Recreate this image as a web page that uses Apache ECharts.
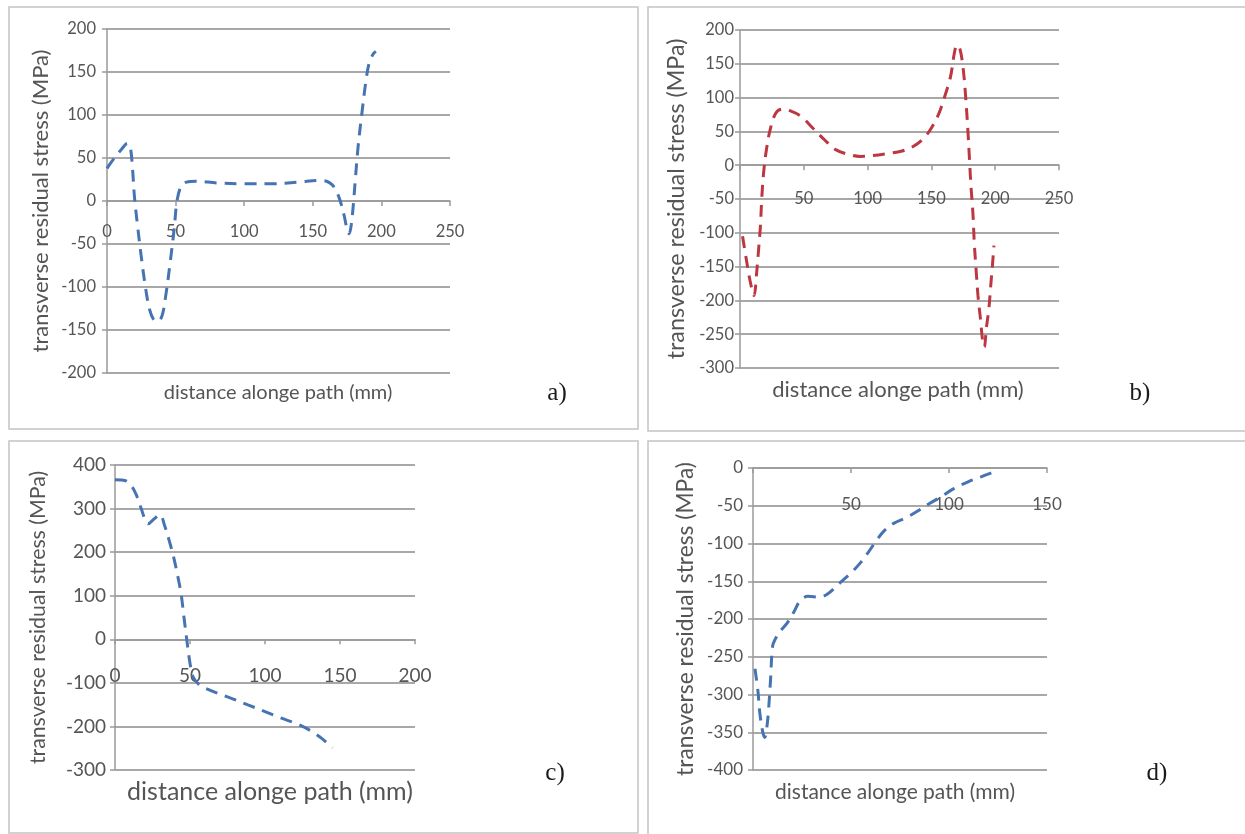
<!DOCTYPE html>
<html><head><meta charset="utf-8">
<script src="https://cdn.jsdelivr.net/npm/echarts@6/dist/echarts.min.js"></script>
<style>html,body{margin:0;padding:0;background:#fff}#c{width:1245px;height:834px}</style>
</head><body><div id="c"></div>
<script>
// ---------- text ----------
const yTitle = 'transverse residual stress (MPa)';
const xTitle = 'distance alonge path (mm)';
const panelLetters = ['a)', 'b)', 'c)', 'd)'];

// ---------- tick labels ----------
const xTicksA = [0, 50, 100, 150, 200, 250];
const yTicksA = [-200, -150, -100, -50, 0, 50, 100, 150, 200];
const xTicksB = [0, 50, 100, 150, 200, 250];
const yTicksB = [-300, -250, -200, -150, -100, -50, 0, 50, 100, 150, 200];
const xTicksC = [0, 50, 100, 150, 200];
const yTicksC = [-300, -200, -100, 0, 100, 200, 300, 400];
const xTicksD = [0, 50, 100, 150];
const yTicksD = [-400, -350, -300, -250, -200, -150, -100, -50, 0];

// ---------- series (distance mm, stress MPa) ----------
const xA = [0, 3, 6, 10, 15, 17, 18.5, 20, 22, 25, 28, 31, 34, 36.5, 40, 43, 46, 49, 51, 54, 58, 65, 80, 100, 120, 140, 155, 160, 164, 167, 170, 173, 175, 176.5, 178, 179.5, 181, 183, 186, 188.5, 191, 194, 196];
const yA = [38, 45, 51, 59, 67, 62, 40, 5, -25, -65, -100, -126, -138, -140, -134, -108, -72, -32, 0, 17, 22, 23, 21, 20, 20, 22, 24, 23, 19, 12, 0, -18, -33, -38, -28, -5, 25, 63, 105, 137, 160, 171, 174];

const xB = [2, 5, 8, 11, 13, 14.6, 16, 17, 18.5, 20.7, 23.7, 28, 33, 40, 48, 57, 66, 75, 85, 94, 103, 115, 127, 136, 144, 150, 156, 160.5, 165, 168, 170, 172.5, 175, 177, 178.7, 180, 181, 182.5, 183.6, 185, 186.5, 188.5, 190, 191.5, 193, 195, 196.5, 198, 199];
const yB = [-105, -140, -172, -193, -160, -124, -90, -51, -11, 23, 53, 77, 83, 80, 72, 55, 38, 23, 16, 13, 14, 17, 21, 28, 40, 55, 77, 102, 131, 166, 178, 171, 141, 97, 48, 3, -31, -70, -115, -154, -193, -228, -257, -269, -242, -213, -178, -144, -119];

const xC = [0, 7, 11, 14, 17, 20, 22, 26, 30, 33, 36, 39, 42, 44, 46, 48, 50, 52, 56, 60, 67, 78, 89, 100, 111, 122, 130, 138, 145];
const yC = [366, 364, 352, 333, 305, 275, 265, 276, 286, 262, 228, 190, 142, 106, 50, -5, -55, -86, -104, -112, -122, -136, -151, -166, -181, -195, -209, -228, -249];

const xD = [1, 2.5, 3.5, 5, 6, 7, 8, 9, 10, 11.5, 14, 17.5, 21, 24, 28, 34, 38, 44, 50, 55, 59, 63, 67, 72, 78, 84, 90, 96, 102, 110, 116, 121, 124];
const yD = [-266, -295, -325, -350, -357, -345, -318, -278, -236, -226, -216, -205, -190, -176, -170, -171, -167, -153, -139, -125, -111, -96, -83, -73, -66, -57, -47, -38, -28, -18, -12, -7, -4];

// ---------- styling / layout ----------
const FONT = 'Lato, "Liberation Sans", sans-serif';
const GRID_COLOR = '#a8a8a8';
const AXIS_COLOR = '#9a9a9a';
const LABEL_COLOR = '#555555';
const BLUE = '#4673b2';
const RED = '#bd3742';

const panels = [
  { grid: {left: 107, top: 29, width: 343, height: 344}, xt: xTicksA, yt: yTicksA, xs: xA, ys: yA, color: BLUE,
    fs: 16.5, xMargin: 22, yMargin: 11, hideX0: false, nameGap: 55, nameSize: 22,
    xt_pos: [278, 393, 20], letter: [557, 393] },
  { grid: {left: 740, top: 30, width: 319, height: 338}, xt: xTicksB, yt: yTicksB, xs: xB, ys: yB, color: RED,
    fs: 16.5, xMargin: 25, yMargin: 6, hideX0: true, nameGap: 52, nameSize: 23.3,
    xt_pos: [898, 390, 22], letter: [1140, 393] },
  { grid: {left: 115, top: 465, width: 300, height: 305}, xt: xTicksC, yt: yTicksC, xs: xC, ys: yC, color: BLUE,
    fs: 19, xMargin: 27, yMargin: 9, hideX0: false, nameGap: 66, nameSize: 21.3,
    xt_pos: [270, 792, 25], letter: [555, 773] },
  { grid: {left: 753, top: 468, width: 294, height: 302}, xt: xTicksD, yt: yTicksD, xs: xD, ys: yD, color: BLUE,
    fs: 17, xMargin: 28, yMargin: 10, hideX0: true, nameGap: 56, nameSize: 22.8,
    xt_pos: [895, 792, 21], letter: [1157, 773] }
];

const boxes = [
  [9, 7, 629, 422],
  [648, 7, 610, 424],
  [9, 441, 629, 392],
  [648, 441, 610, 400]
];

const grids = [], xAxes = [], yAxes = [], series = [], graphic = [];

boxes.forEach(b => graphic.push({
  type: 'rect', silent: true, z: 0,
  shape: {x: b[0], y: b[1], width: b[2], height: b[3]},
  style: {fill: 'none', stroke: '#c4c4c4', lineWidth: 1.5}
}));

panels.forEach((p, i) => {
  grids.push(Object.assign({containLabel: false}, p.grid));
  const xt = p.xt, yt = p.yt;
  xAxes.push({
    type: 'value', gridIndex: i, position: 'bottom', offset: 0,
    min: xt[0], max: xt[xt.length - 1], interval: xt[1] - xt[0],
    axisLine: {show: true, onZero: false, lineStyle: {color: AXIS_COLOR, width: 1.5}},
    axisTick: {show: true, inside: false, length: 5, lineStyle: {color: AXIS_COLOR, width: 1.5}},
    splitLine: {show: false},
    axisLabel: {
      color: LABEL_COLOR, fontFamily: FONT, fontSize: p.fs, margin: p.xMargin,
      showMinLabel: true, showMaxLabel: true,
      formatter: v => (p.hideX0 && v === 0) ? '' : String(v)
    }
  });
  yAxes.push({
    type: 'value', gridIndex: i,
    min: yt[0], max: yt[yt.length - 1], interval: yt[1] - yt[0],
    name: yTitle, nameLocation: 'middle', nameGap: p.nameGap,
    nameTextStyle: {color: LABEL_COLOR, fontFamily: FONT, fontSize: p.nameSize},
    axisLine: {show: true, onZero: false, lineStyle: {color: AXIS_COLOR, width: 1.5}},
    axisTick: {show: true, inside: false, length: 5, lineStyle: {color: AXIS_COLOR, width: 1.5}},
    splitLine: {show: true, lineStyle: {color: GRID_COLOR, width: 1.8}},
    axisLabel: {color: LABEL_COLOR, fontFamily: FONT, fontSize: p.fs, margin: p.yMargin}
  });
  series.push({
    type: 'line', xAxisIndex: i, yAxisIndex: i,
    data: p.xs.map((x, k) => [x, p.ys[k]]),
    smooth: 0.35, showSymbol: false, symbol: 'none',
    lineStyle: {color: p.color, width: 3, type: [12, 8]},
    z: 5
  });
  graphic.push({
    type: 'text', silent: true,
    style: {text: xTitle, x: p.xt_pos[0], y: p.xt_pos[1], align: 'center', verticalAlign: 'middle',
            fill: LABEL_COLOR, fontFamily: FONT, fontSize: p.xt_pos[2]}
  });
  graphic.push({
    type: 'text', silent: true,
    style: {text: panelLetters[i], x: p.letter[0], y: p.letter[1], align: 'center', verticalAlign: 'middle',
            fill: '#1a1a1a', fontFamily: '"Liberation Serif", "DejaVu Serif", serif', fontSize: 25}
  });
});

const chart = echarts.init(document.getElementById('c'), null, {renderer: 'canvas'});
chart.setOption({
  animation: false,
  backgroundColor: '#ffffff',
  grid: grids, xAxis: xAxes, yAxis: yAxes, series: series, graphic: graphic
});

// Move each x axis so that it crosses the y axis at 0 (as in the original Excel charts),
// using the library's own y scale to find where 0 lies.
const shifted = panels.map((p, i) => {
  const yZero = chart.convertToPixel({yAxisIndex: i}, 0);
  const yBottom = chart.convertToPixel({yAxisIndex: i}, p.yt[0]);
  return {offset: -(yBottom - yZero)};
});
chart.setOption({xAxis: shifted});
</script></body></html>
